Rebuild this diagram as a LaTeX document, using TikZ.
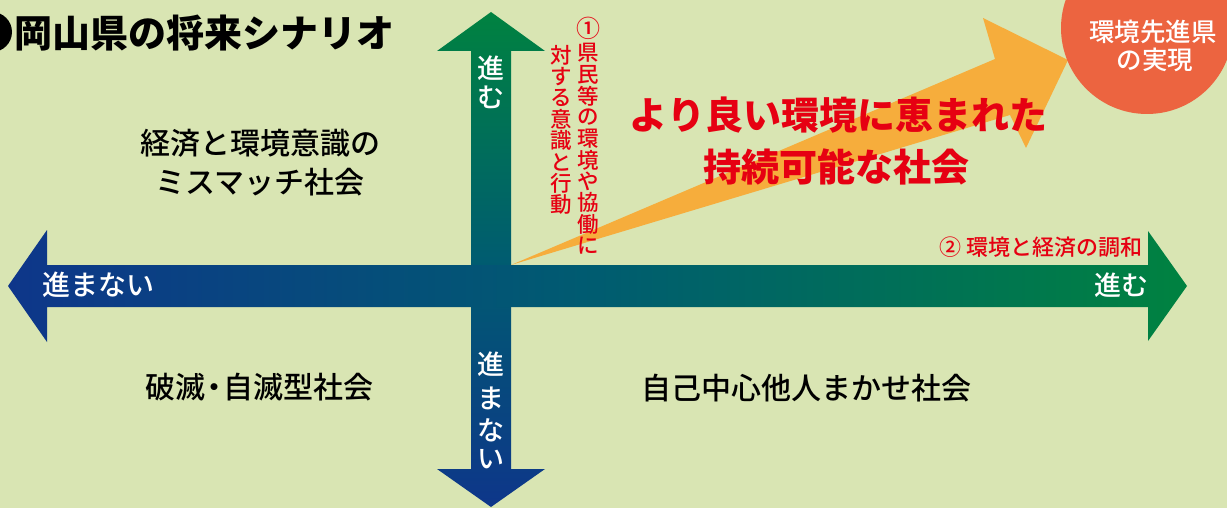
\documentclass[tikz,border=0pt]{standalone}
\usepackage{fontspec}
\newfontfamily\jp{Noto Sans CJK JP}
\newfontfamily\jpm{Noto Sans CJK JP Medium}
\newfontfamily\jpk{Noto Sans CJK JP Black}
\definecolor{bg}{RGB}{217,229,179}
\definecolor{agreen}{RGB}{0,130,64}
\definecolor{ablue}{RGB}{14,54,138}
\definecolor{ateal}{RGB}{0,92,112}
\definecolor{aorange}{RGB}{246,173,60}
\definecolor{circ}{RGB}{236,100,64}
\definecolor{red0}{RGB}{230,0,18}
\tikzset{
  jtext/.style={inner sep=0pt, anchor=center},
  fs/.style={font=\jpm\fontsize{#1}{#1}\selectfont},
  fsb/.style={font=\jp\bfseries\fontsize{#1}{#1}\selectfont},
  fsk/.style={font=\jpk\fontsize{#1}{#1}\selectfont},
  blacktext/.style={jtext, text=black},
  whitetext/.style={jtext, text=white},
  redtext/.style={jtext, text=red0},
}
\begin{document}
\begin{tikzpicture}[x=1pt,y=-1pt]
\useasboundingbox (0,0) rectangle (1227,508);
\fill[bg] (0,0) rectangle (1227,508);

% vertical arrow
\shade[top color=agreen, bottom color=ablue, middle color=ateal]
  (491,12) -- (545,51) -- (511,51) -- (511,469) -- (545,469) -- (491,507)
  -- (437,469) -- (471,469) -- (471,51) -- (437,51) -- cycle;
% horizontal arrow
\shade[left color=ablue, right color=agreen, middle color=ateal]
  (8,286) -- (47,230) -- (47,265) -- (1148,265) -- (1148,231) -- (1187,286)
  -- (1148,341) -- (1148,307) -- (47,307) -- (47,342) -- cycle;
% orange arrow
\fill[aorange] (511,265) -- (995,59) -- (983,18) -- (1068,60) -- (1026,148) -- (1010,115) -- cycle;
% circle
\fill[circ] (1147,28) circle[radius=86pt];
\node[whitetext, fs=25.5] (goal1) at (1153,32) {環境先進県};
\node[whitetext, fs=25.5] (goal2) at (1155,60) {の実現};

% title
\fill[black] (-8,32) circle[radius=20pt];
\node[blacktext, fsk=38] (title) at (204.5,33) {岡山県の将来シナリオ};

% quadrant texts
\node[blacktext, fs=30] (q1a) at (260,143) {経済と環境意識の};
\node[blacktext, fs=30] (q1b) at (260,182) {ミスマッチ社会};
\node[blacktext, fs=30] (q3) at (259,387) {破滅\kern-6pt・\kern-6pt 自滅型社会};
\node[blacktext, fs=30] (q4) at (806,388) {自己中心他人まかせ社会};

% red main text
\node[redtext, fsb=38] (m1) at (838.5,115) {より良い環境に恵まれた};
\node[redtext, fsb=38] (m2) at (836.5,167) {持続可能な社会};

% vertical red label
\node[redtext, fs=24] (ca0) at (588,28) {①};
\foreach \c [count=\i] in {県,民,等,の,環,境,や,協,働,に}
  \node[redtext, fs=21.5] (ca\i) at (588,{53+(\i-1)*21.4}) {\c};
\foreach \c [count=\i] in {対,す,る,意,識,と,行,動}
  \node[redtext, fs=21.5] (cb\i) at (561,{55+(\i-1)*21.4}) {\c};

% horizontal red label
\node[redtext, fs=22, anchor=east] (lab2) at (1143,247) {② 環境と経済の調和};

% arrow labels
\node[whitetext, fs=27] (up1) at (491,68) {進};
\node[whitetext, fs=27] (up2) at (491,97) {む};
\foreach \c/\y [count=\i] in {進/364,ま/398,な/430,い/459}
  \node[whitetext, fs=27] (dn\i) at (491,\y) {\c};
\node[whitetext, fs=28, anchor=west] (lt) at (42,285) {進まない};
\node[whitetext, fs=27, anchor=east] (rt) at (1149,285) {進む};
\end{tikzpicture}
\end{document}
